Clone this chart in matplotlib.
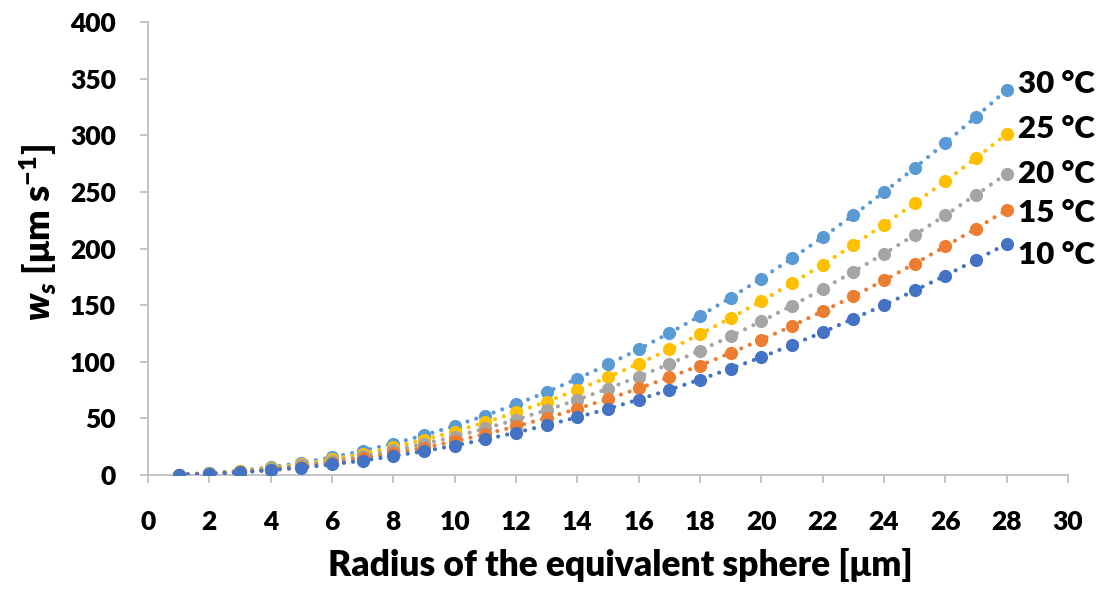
import numpy as np
import matplotlib.pyplot as plt

# radius of the equivalent sphere [um]
radius = list(range(1, 29))

# settling velocity w_s [um/s]
ws_10 = [0.3, 1.0, 2.3, 4.2, 6.5, 9.4, 12.7, 16.7, 21.1, 26.0, 31.5, 37.5, 44.0, 51.0,
         58.5, 66.6, 75.2, 84.3, 94.0, 104.0, 115.0, 126.0, 138.0, 150.0, 163.0, 176.0, 190.0, 204.0]
ws_15 = [0.3, 1.2, 2.7, 4.8, 7.5, 10.7, 14.6, 19.1, 24.2, 29.8, 36.1, 43.0, 50.4, 58.5,
         67.2, 76.4, 86.3, 96.7, 107.8, 119.4, 131.6, 144.5, 157.9, 171.9, 186.6, 201.8, 217.6, 234.0]
ws_20 = [0.3, 1.4, 3.1, 5.4, 8.5, 12.2, 16.6, 21.7, 27.5, 33.9, 41.1, 48.9, 57.3, 66.5,
         76.3, 86.9, 98.1, 109.9, 122.5, 135.7, 149.6, 164.2, 179.5, 195.4, 212.0, 229.4, 247.4, 266.0]
ws_25 = [0.4, 1.5, 3.5, 6.1, 9.6, 13.8, 18.8, 24.6, 31.1, 38.4, 46.5, 55.3, 64.9, 75.2,
         86.4, 98.3, 110.9, 124.4, 138.6, 153.6, 169.3, 185.8, 203.1, 221.1, 240.0, 259.5, 279.9, 301.0]
ws_30 = [0.4, 1.7, 3.9, 6.9, 10.8, 15.6, 21.3, 27.8, 35.1, 43.4, 52.5, 62.4, 73.3, 85.0,
         97.6, 111.0, 125.3, 140.5, 156.6, 173.5, 191.3, 209.9, 229.4, 249.8, 271.1, 293.2, 316.2, 340.0]

labels = ["30 °C", "25 °C", "20 °C", "15 °C", "10 °C"]
series = [ws_30, ws_25, ws_20, ws_15, ws_10]
colors = ["#5B9BD5", "#FFC000", "#A5A5A5", "#ED7D31", "#4472C4"]
label_offsets = [4, 3.5, -0.5, -2.5, -8]  # vertical nudge of end labels, in points

plt.rcParams['font.family'] = ['Lato', 'DejaVu Sans']
plt.rcParams['mathtext.fontset'] = 'custom'
plt.rcParams['mathtext.rm'] = 'Lato:heavy'
plt.rcParams['mathtext.it'] = 'Lato:heavy:italic'
plt.rcParams['mathtext.bf'] = 'Lato:heavy'

W = 'heavy'

fig = plt.figure(figsize=(11.06, 5.92), dpi=100)
ax = fig.add_axes([0.1338, 0.1976, 0.8318, 0.7652])

for i, (lab, ys, c) in enumerate(zip(labels, series, colors)):
    ax.plot(radius, ys, linestyle=(0, (0.01, 2.2)), dash_capstyle='round',
            linewidth=3.0, color=c, marker='o', markersize=9.5,
            markeredgewidth=0, zorder=2 + i)
    ax.annotate(lab, xy=(radius[-1], ys[-1]), xytext=(8, label_offsets[i]),
                textcoords='offset points', ha='left', va='center',
                fontsize=22.5, fontweight=W, color='black')

ax.set_xlim(0, 30)
ax.set_ylim(0, 400)
ax.set_xticks(np.arange(0, 31, 2))
ax.set_yticks(np.arange(0, 401, 50))

for side in ['top', 'right']:
    ax.spines[side].set_visible(False)
for side in ['left', 'bottom']:
    ax.spines[side].set_color('#BFBFBF')
    ax.spines[side].set_linewidth(1.3)
ax.tick_params(axis='both', color='#BFBFBF', width=1.3, length=6,
               labelsize=19)
for t in ax.get_xticklabels() + ax.get_yticklabels():
    t.set_fontweight(W)
ax.tick_params(axis='x', pad=19)
ax.tick_params(axis='y', pad=17)

ax.set_xlabel("Radius of the equivalent sphere [μm]", fontsize=25.5,
              fontweight=W, labelpad=10)
ax.set_ylabel(r"$w_s$ [μm s$^{-1}$]", fontsize=26, fontweight=W, labelpad=8)
ax.xaxis.label.set_x(0.513)
ax.yaxis.label.set_y(0.536)

fig.savefig("out.png", dpi=100)
